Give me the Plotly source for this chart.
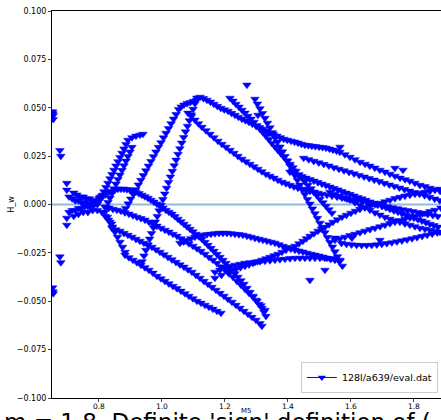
import plotly.graph_objects as go

# ---------------- data ----------------
edge_x = [0.653, 0.654, 0.655, 0.655, 0.653, 0.654, 0.655,
          0.676, 0.679, 0.676, 0.679, 0.698, 0.698, 0.698, 0.698]
edge_y = [0.048, 0.047, 0.046, 0.044, -0.043, -0.045, -0.046,
          0.028, 0.025, -0.027, -0.030, 0.011, 0.0075, -0.007, -0.0106]

k1_x = [0.705, 0.715, 0.725, 0.735, 0.745, 0.755, 0.765, 0.775, 0.785, 0.795]
k1_y = [0.004, 0.003, 0.002, 0.002, 0.001, 0.001, 0.000, 0.000, 0.000, 0.000]
k2_x = [0.705, 0.715, 0.725, 0.735, 0.745, 0.755, 0.765, 0.775, 0.785]
k2_y = [-0.004, -0.003, -0.003, -0.002, -0.002, -0.001, -0.001, -0.001, 0.000]
k3_x = [0.72, 0.73, 0.74, 0.75, 0.76, 0.77, 0.78, 0.79, 0.80, 0.81, 0.82]
k3_y = [0.006, 0.005, 0.004, 0.004, 0.003, 0.003, 0.002, 0.002, 0.003, 0.004, 0.005]
k4_x = [0.72, 0.735, 0.75, 0.765, 0.78, 0.795, 0.81, 0.82, 0.83, 0.84]
k4_y = [-0.006, -0.005, -0.004, -0.004, -0.003, -0.003, -0.004, -0.006, -0.008, -0.010]

a1_x = [0.8032, 0.8096, 0.8159, 0.8223, 0.8286, 0.8350, 0.8413, 0.8477, 0.8540, 0.8604,
        0.8667, 0.8731, 0.8794, 0.8858, 0.8921, 0.9048, 0.9175, 0.9302, 0.9397]
a1_y = [0.0023, 0.0045, 0.0067, 0.0089, 0.0111, 0.0134, 0.0156, 0.0178, 0.0200, 0.0222,
        0.0244, 0.0266, 0.0288, 0.0311, 0.0333, 0.0346, 0.0354, 0.0359, 0.0364]
a2_x = [0.8223, 0.8286, 0.8350, 0.8413, 0.8477, 0.8540, 0.8604, 0.8667, 0.8731, 0.8794,
        0.8858, 0.8921, 0.8985, 0.9048]
a2_y = [-0.0013, 0.0011, 0.0034, 0.0058, 0.0082, 0.0106, 0.0130, 0.0153, 0.0177, 0.0201,
        0.0225, 0.0249, 0.0272, 0.0296]

b_x = [0.885, 0.893, 0.901, 0.909, 0.917, 0.925, 0.933, 0.941, 0.949, 0.957, 0.965, 0.973,
       0.981, 0.989, 0.997, 1.005, 1.013, 1.021, 1.029, 1.037, 1.045, 1.053, 1.061, 1.070,
       1.080, 1.090, 1.100, 1.110]
b_y = [-0.0020, 0.0004, 0.0029, 0.0053, 0.0077, 0.0102, 0.0126, 0.0150, 0.0175, 0.0199,
       0.0223, 0.0248, 0.0272, 0.0296, 0.0320, 0.0345, 0.0369, 0.0393, 0.0418, 0.0442,
       0.0466, 0.0491, 0.0505, 0.0515, 0.0522, 0.0528, 0.0534, 0.0540]

c_x = [0.937, 0.943, 0.949, 0.955, 0.961, 0.967, 0.973, 0.979, 0.985, 0.991, 0.997, 1.003,
       1.009, 1.015, 1.021, 1.027, 1.033, 1.039, 1.045, 1.051, 1.057, 1.063, 1.069, 1.075,
       1.081, 1.087, 1.093, 1.099, 1.105, 1.111]
c_y = [-0.0295, -0.0265, -0.0236, -0.0207, -0.0178, -0.0149, -0.0120, -0.0090, -0.0061,
       -0.0032, -0.0003, 0.0026, 0.0055, 0.0085, 0.0114, 0.0143, 0.0172, 0.0201, 0.0230,
       0.0260, 0.0289, 0.0318, 0.0347, 0.0376, 0.0405, 0.0434, 0.0464, 0.0493, 0.0522, 0.0551]

d1_x = [1.121, 1.132, 1.143, 1.154, 1.165, 1.176, 1.187, 1.198, 1.210, 1.221,
        1.232, 1.243, 1.254, 1.265, 1.276, 1.287, 1.299, 1.310, 1.321, 1.332,
        1.343, 1.354, 1.365, 1.376, 1.387, 1.398, 1.410, 1.421, 1.432, 1.443,
        1.454, 1.465, 1.476, 1.487, 1.499, 1.510, 1.521, 1.532, 1.543, 1.554,
        1.565, 1.581, 1.597, 1.613, 1.629, 1.645, 1.660, 1.676, 1.692, 1.708,
        1.724, 1.740, 1.756, 1.772, 1.787, 1.803, 1.819, 1.835, 1.851, 1.867, 1.883]
d1_y = [0.0555, 0.0548, 0.0540, 0.0530, 0.0519, 0.0508, 0.0498, 0.0490, 0.0483, 0.0472,
        0.0462, 0.0452, 0.0442, 0.0434, 0.0426, 0.0416, 0.0405, 0.0398, 0.0390, 0.0380,
        0.0369, 0.0362, 0.0354, 0.0346, 0.0338, 0.0333, 0.0328, 0.0323, 0.0318, 0.0312,
        0.0307, 0.0305, 0.0302, 0.0300, 0.0297, 0.0295, 0.0292, 0.0287, 0.0282, 0.0277,
        0.0271, 0.0258, 0.0245, 0.0232, 0.0219, 0.0209, 0.0199, 0.0189, 0.0178, 0.0168,
        0.0157, 0.0147, 0.0137, 0.0129, 0.0121, 0.0111, 0.0100, 0.0093, 0.0085, 0.0077, 0.0069]

d1b_x = [1.450, 1.466, 1.482, 1.498, 1.514, 1.530, 1.546, 1.562, 1.578, 1.594, 1.610, 1.626,
         1.642, 1.658, 1.674, 1.690, 1.706, 1.722, 1.738, 1.754, 1.770, 1.786, 1.802, 1.818,
         1.834, 1.850, 1.866, 1.882]
d1b_y = [0.0240, 0.0232, 0.0224, 0.0216, 0.0208, 0.0200, 0.0191, 0.0183, 0.0175, 0.0167,
         0.0159, 0.0151, 0.0143, 0.0135, 0.0127, 0.0119, 0.0110, 0.0102, 0.0094, 0.0086,
         0.0078, 0.0070, 0.0062, 0.0054, 0.0046, 0.0038, 0.0029, 0.0021]

d2_x = [1.0826, 1.0937, 1.1048, 1.1159, 1.1270, 1.1397, 1.1524, 1.1651, 1.1778, 1.1905,
        1.2032, 1.2159, 1.2286, 1.2413, 1.2540, 1.2667, 1.2794, 1.2921, 1.3048, 1.3175,
        1.3302, 1.3429, 1.3556, 1.3683, 1.3810, 1.3937, 1.4064, 1.4191, 1.4318, 1.4445,
        1.4572, 1.4699, 1.4826, 1.4953, 1.5080, 1.524, 1.540, 1.556, 1.572, 1.588, 1.604,
        1.620, 1.636, 1.652, 1.668, 1.684, 1.700, 1.716, 1.732, 1.748, 1.764, 1.780, 1.796,
        1.812, 1.828, 1.844, 1.860, 1.876]
d2_y = [0.0473, 0.0455, 0.0437, 0.0418, 0.0400, 0.0382, 0.0364, 0.0346, 0.0328, 0.0312,
        0.0297, 0.0281, 0.0266, 0.0250, 0.0235, 0.0222, 0.0209, 0.0196, 0.0183, 0.0170,
        0.0157, 0.0147, 0.0137, 0.0126, 0.0116, 0.0108, 0.0100, 0.0092, 0.0085, 0.0080,
        0.0075, 0.0069, 0.0064, 0.0059, 0.0054, 0.0049, 0.0044, 0.0039, 0.0034, 0.0029, 0.0024,
        0.0019, 0.0014, 0.0009, 0.0004, -0.0001, -0.0006, -0.0011, -0.0016, -0.0021, -0.0026,
        -0.0031, -0.0036, -0.0041, -0.0046, -0.0051, -0.0056, -0.0061]

d3_x = [1.2953, 1.3032, 1.3112, 1.3191, 1.3270, 1.3350, 1.3430, 1.3509, 1.3588, 1.3668,
        1.3747, 1.3826, 1.3906, 1.3985, 1.4064, 1.4144, 1.4223, 1.4302, 1.4382, 1.4461,
        1.4541, 1.4620, 1.4699, 1.4778, 1.4858, 1.4937, 1.5017, 1.5096, 1.5175, 1.5255,
        1.5334, 1.5413, 1.5493, 1.5572, 1.5652, 1.5730]
d3_y = [0.0545, 0.0520, 0.0496, 0.0471, 0.0446, 0.0421, 0.0397, 0.0372, 0.0347, 0.0323,
        0.0298, 0.0273, 0.0249, 0.0224, 0.0200, 0.0175, 0.0151, 0.0126, 0.0101, 0.0077,
        0.0052, 0.0027, 0.0003, -0.0022, -0.0047, -0.0071, -0.0096, -0.0121, -0.0145, -0.0170,
        -0.0195, -0.0219, -0.0244, -0.0269, -0.0293, -0.0318]

d4_x = [1.2159, 1.2255, 1.2350, 1.2446, 1.2541, 1.2636, 1.2731, 1.2827, 1.2922, 1.3017,
        1.3112, 1.3208, 1.3303, 1.3398, 1.3493, 1.3589, 1.3684, 1.3779, 1.3874, 1.3969,
        1.4064, 1.4160, 1.4255, 1.4350, 1.4445, 1.4541, 1.4636, 1.4731, 1.4826, 1.4922,
        1.5017, 1.5112, 1.5207, 1.5303, 1.5398]
d4_y = [0.0550, 0.0535, 0.0519, 0.0504, 0.0488, 0.0473, 0.0457, 0.0442, 0.0426, 0.0408,
        0.0390, 0.0372, 0.0354, 0.0336, 0.0317, 0.0299, 0.0281, 0.0263, 0.0245, 0.0227,
        0.0209, 0.0191, 0.0173, 0.0155, 0.0137, 0.0119, 0.0100, 0.0082, 0.0064, 0.0046,
        0.0028, 0.0010, -0.0008, -0.0026, -0.0044]

r1_x = [1.1683, 1.1890, 1.2096, 1.2223, 1.2350, 1.2493, 1.2636, 1.2763, 1.2890, 1.3033,
        1.3176, 1.3303, 1.3430, 1.3557, 1.3684, 1.3811, 1.3938, 1.4080, 1.4223, 1.4350,
        1.4477, 1.4588, 1.4699, 1.4826, 1.4953, 1.5064, 1.5175, 1.5302, 1.5430, 1.5572,
        1.5715, 1.5858, 1.6001, 1.6143, 1.6286, 1.6445, 1.6604, 1.6762, 1.6921, 1.7080,
        1.7239, 1.7398, 1.7557, 1.7715, 1.7874, 1.8033, 1.8192, 1.8350, 1.8509, 1.8668, 1.8827]
r1_y = [-0.0380, -0.0365, -0.0349, -0.0342, -0.0334, -0.0326, -0.0318, -0.0311, -0.0303, -0.0295,
        -0.0287, -0.0280, -0.0272, -0.0264, -0.0256, -0.0246, -0.0235, -0.0225, -0.0215, -0.0202,
        -0.0189, -0.0176, -0.0163, -0.0150, -0.0137, -0.0127, -0.0117, -0.0104, -0.0091, -0.0078,
        -0.0065, -0.0055, -0.0044, -0.0034, -0.0024, -0.0016, -0.0008, 0.0000, 0.0007, 0.0015,
        0.0023, 0.0031, 0.0038, 0.0044, 0.0049, 0.0054, 0.0059, 0.0064, 0.0069, 0.0075, 0.0080]

r2_x = [1.0572, 1.0683, 1.0794, 1.0921, 1.1048, 1.1175, 1.1302, 1.1429, 1.1556, 1.1683,
        1.1810, 1.1937, 1.2064, 1.2191, 1.2318, 1.2445, 1.2572, 1.2699, 1.2826, 1.2953,
        1.3080, 1.3207, 1.3334, 1.3461, 1.3588, 1.3715, 1.3842, 1.3969, 1.4096, 1.4223,
        1.4350, 1.4477, 1.4604, 1.4731, 1.4858, 1.4985, 1.5112, 1.5239, 1.5366, 1.5493, 1.5620]
r2_y = [-0.0199, -0.0192, -0.0184, -0.0176, -0.0168, -0.0163, -0.0158, -0.0155, -0.0153, -0.0150,
        -0.0148, -0.0148, -0.0148, -0.0150, -0.0153, -0.0155, -0.0158, -0.0163, -0.0168, -0.0174,
        -0.0179, -0.0184, -0.0189, -0.0194, -0.0199, -0.0207, -0.0215, -0.0222, -0.0230, -0.0235,
        -0.0240, -0.0245, -0.0251, -0.0256, -0.0261, -0.0266, -0.0271, -0.0277, -0.0282, -0.0287,
        -0.0292]

r3_x = [1.1683, 1.1842, 1.2001, 1.2160, 1.2318, 1.2477, 1.2636, 1.2795, 1.2953, 1.3112,
        1.3271, 1.3430, 1.3588, 1.3747, 1.3906, 1.4065, 1.4223, 1.4382, 1.4541, 1.4700,
        1.4858, 1.5017, 1.5175, 1.5334, 1.5493, 1.5652]
r3_y = [-0.0349, -0.0338, -0.0328, -0.0320, -0.0313, -0.0308, -0.0303, -0.0300, -0.0298, -0.0295,
        -0.0292, -0.0290, -0.0287, -0.0284, -0.0282, -0.0279, -0.0277, -0.0277, -0.0277, -0.0277,
        -0.0277, -0.0277, -0.0277, -0.0279, -0.0282, -0.0287]

r4_x = [1.4064, 1.4191, 1.4318, 1.4445, 1.4572, 1.4699, 1.4826, 1.4953, 1.5080, 1.5207,
        1.5334, 1.5461, 1.5588, 1.5715, 1.5842, 1.5969, 1.6096, 1.6223, 1.6350, 1.6477,
        1.6604, 1.6731, 1.6858, 1.6985, 1.7112, 1.7239, 1.7366, 1.7493, 1.7620, 1.7747,
        1.7874, 1.8001, 1.8128, 1.8255, 1.8382, 1.8509, 1.8636, 1.8763]
r4_y = [0.0168, 0.0160, 0.0152, 0.0145, 0.0137, 0.0130, 0.0122, 0.0114, 0.0106, 0.0099,
        0.0091, 0.0083, 0.0076, 0.0068, 0.0060, 0.0053, 0.0045, 0.0037, 0.0030, 0.0022,
        0.0014, 0.0007, -0.0001, -0.0009, -0.0016, -0.0024, -0.0032, -0.0039, -0.0047, -0.0055,
        -0.0062, -0.0070, -0.0078, -0.0085, -0.0093, -0.0101, -0.0108, -0.0116]

r5_x = [1.5334, 1.5493, 1.5652, 1.5811, 1.5969, 1.6128, 1.6286, 1.6445, 1.6604, 1.6763,
        1.6921, 1.7080, 1.7239, 1.7398, 1.7556, 1.7715, 1.7874, 1.8033, 1.8191, 1.8350,
        1.8509, 1.8668, 1.8826]
r5_y = [0.0064, 0.0054, 0.0044, 0.0034, 0.0023, 0.0010, -0.0003, -0.0016, -0.0029, -0.0042,
        -0.0054, -0.0065, -0.0075, -0.0083, -0.0091, -0.0099, -0.0106, -0.0114, -0.0122, -0.0127,
        -0.0132, -0.0137, -0.0142]

r6_x = [1.5493, 1.5652, 1.5810, 1.5969, 1.6128, 1.6287, 1.6445, 1.6604, 1.6763, 1.6922,
        1.7080, 1.7239, 1.7398, 1.7557, 1.7715, 1.7874, 1.8033, 1.8192, 1.8350, 1.8509,
        1.8668, 1.8858]
r6_y = [-0.0184, -0.0176, -0.0168, -0.0160, -0.0153, -0.0145, -0.0137, -0.0129, -0.0122, -0.0114,
        -0.0106, -0.0098, -0.0091, -0.0083, -0.0075, -0.0068, -0.0060, -0.0052, -0.0044, -0.0036,
        -0.0029, -0.0018]

r8_x = [1.570, 1.586, 1.602, 1.618, 1.634, 1.650, 1.666, 1.682, 1.698, 1.714, 1.730, 1.746,
        1.762, 1.778, 1.794, 1.810, 1.826, 1.842, 1.858, 1.874]
r8_y = [-0.0200, -0.0205, -0.0208, -0.0210, -0.0211, -0.0211, -0.0210, -0.0208, -0.0205, -0.0201,
        -0.0197, -0.0192, -0.0187, -0.0182, -0.0176, -0.0170, -0.0164, -0.0158, -0.0152, -0.0146]

arc0_x = [0.8032, 0.8127, 0.8222, 0.8318, 0.8413, 0.8508, 0.8603, 0.8699, 0.8794, 0.8889,
          0.8984, 0.9080, 0.9175, 0.9270, 0.9365, 0.9461, 0.9556, 0.9651, 0.9746, 0.9842,
          0.9937, 1.0032, 1.0127, 1.0223, 1.0318, 1.0413, 1.0508, 1.0604, 1.0699, 1.0794,
          1.0889, 1.0985, 1.1080, 1.1175, 1.1270, 1.1366, 1.1461, 1.1556, 1.1651, 1.1747,
          1.1842, 1.1937, 1.2032, 1.2128, 1.2223, 1.2318, 1.2413, 1.2509, 1.2604, 1.2699,
          1.2794, 1.2890, 1.2985, 1.3080, 1.3175, 1.3240, 1.3302]
arc0_y = [0.0038, 0.0049, 0.0059, 0.0064, 0.0069, 0.0075, 0.0080, 0.0080, 0.0080, 0.0078,
          0.0075, 0.0070, 0.0064, 0.0057, 0.0049, 0.0041, 0.0033, 0.0023, 0.0013, 0.0003,
          -0.0008, -0.0018, -0.0029, -0.0039, -0.0049, -0.0062, -0.0075, -0.0088, -0.0101, -0.0114,
          -0.0127, -0.0140, -0.0153, -0.0166, -0.0179, -0.0195, -0.0210, -0.0226, -0.0241, -0.0257,
          -0.0272, -0.0288, -0.0303, -0.0321, -0.0339, -0.0357, -0.0375, -0.0393, -0.0411, -0.0432,
          -0.0453, -0.0473, -0.0494, -0.0515, -0.0535, -0.0556, -0.0577]

l0_x = [0.819, 0.827, 0.835, 0.843, 0.851, 0.859, 0.867, 0.875, 0.883]
l0_y = [-0.0039, -0.0065, -0.0090, -0.0116, -0.0142, -0.0168, -0.0194, -0.0220, -0.0246]

l1_x = [0.8191, 0.8318, 0.8445, 0.8572, 0.8699, 0.8826, 0.8953, 0.9080, 0.9207, 0.9334,
        0.9461, 0.9588, 0.9715, 0.9842, 0.9969, 1.0096, 1.0223, 1.0350, 1.0477, 1.0604,
        1.0731, 1.0858, 1.0985, 1.1112, 1.1239, 1.1366, 1.1493, 1.1620, 1.1747, 1.1874,
        1.2001, 1.2128, 1.2255, 1.2382, 1.2509, 1.2636, 1.2763, 1.2890, 1.3017, 1.3144, 1.3271]
l1_y = [-0.0013, -0.0018, -0.0024, -0.0029, -0.0034, -0.0042, -0.0049, -0.0057, -0.0065, -0.0072,
        -0.0080, -0.0090, -0.0101, -0.0111, -0.0122, -0.0132, -0.0142, -0.0153, -0.0163, -0.0176,
        -0.0189, -0.0202, -0.0215, -0.0228, -0.0241, -0.0256, -0.0272, -0.0287, -0.0303, -0.0321,
        -0.0339, -0.0357, -0.0375, -0.0396, -0.0416, -0.0437, -0.0458, -0.0478, -0.0499, -0.0522,
        -0.0546]

l2_x = [0.8413, 0.8540, 0.8667, 0.8794, 0.8921, 0.9048, 0.9175, 0.9302, 0.9429, 0.9556,
        0.9683, 0.9810, 0.9937, 1.0064, 1.0191, 1.0318, 1.0445, 1.0572, 1.0699, 1.0826,
        1.0953, 1.1080, 1.1207, 1.1334, 1.1461, 1.1588, 1.1715, 1.1842, 1.1969, 1.2096,
        1.2223, 1.2350, 1.2477, 1.2604, 1.2731, 1.2858, 1.2985, 1.3112, 1.3175]
l2_y = [-0.0122, -0.0130, -0.0137, -0.0148, -0.0158, -0.0168, -0.0179, -0.0189, -0.0199, -0.0210,
        -0.0220, -0.0233, -0.0246, -0.0259, -0.0272, -0.0285, -0.0298, -0.0311, -0.0323, -0.0336,
        -0.0349, -0.0365, -0.0380, -0.0396, -0.0411, -0.0427, -0.0442, -0.0458, -0.0473, -0.0489,
        -0.0504, -0.0520, -0.0535, -0.0551, -0.0566, -0.0582, -0.0597, -0.0615, -0.0628]

l3_x = [0.8826, 0.8953, 0.9080, 0.9207, 0.9334, 0.9461, 0.9588, 0.9715, 0.9842, 0.9969,
        1.0096, 1.0223, 1.0350, 1.0477, 1.0604, 1.0731, 1.0858, 1.0985, 1.1112, 1.1239,
        1.1366, 1.1493, 1.1620, 1.1747, 1.1874]
l3_y = [-0.0261, -0.0274, -0.0287, -0.0300, -0.0313, -0.0326, -0.0339, -0.0354, -0.0370, -0.0383,
        -0.0396, -0.0409, -0.0422, -0.0434, -0.0447, -0.0460, -0.0473, -0.0486, -0.0499, -0.0509,
        -0.0520, -0.0530, -0.0540, -0.0551, -0.0561]

iso_x = [1.2699, 1.4699, 1.5175, 1.5493, 1.6033, 1.6921, 1.3048, 1.5652, 1.7398, 1.7652]
iso_y = [0.0618, -0.0391, -0.0339, -0.0173, -0.0173, -0.0184, 0.0462, 0.0297, 0.0188, 0.0178]

curves = [
    (edge_x, edge_y), (k1_x, k1_y), (k2_x, k2_y), (k3_x, k3_y), (k4_x, k4_y),
    (a1_x, a1_y), (a2_x, a2_y), (b_x, b_y), (c_x, c_y),
    (d1_x, d1_y), (d1b_x, d1b_y), (d2_x, d2_y), (d3_x, d3_y), (d4_x, d4_y),
    (r1_x, r1_y), (r2_x, r2_y), (r3_x, r3_y), (r4_x, r4_y), (r5_x, r5_y), (r6_x, r6_y),
    (r8_x, r8_y),
    (arc0_x, arc0_y), (l0_x, l0_y), (l1_x, l1_y), (l2_x, l2_y), (l3_x, l3_y),
    (iso_x, iso_y),
]

x_ticks = [0.8, 1.0, 1.2, 1.4, 1.6, 1.8]
y_ticks = [-0.100, -0.075, -0.050, -0.025, 0.000, 0.025, 0.050, 0.075, 0.100]
legend_label = "128l/a639/eval.dat"
caption = "m = 1.8. Definite 'sign' definition of ("

# ---------------- figure ----------------
BLUE = "#0000ff"
fig = go.Figure()
all_x, all_y = [], []
for cx, cy in curves:
    all_x += cx + [None]
    all_y += cy + [None]
fig.add_trace(go.Scatter(
    x=all_x, y=all_y, mode="markers", showlegend=False,
    marker=dict(symbol="triangle-down", size=7.5, color=BLUE,
                line=dict(color=BLUE, width=0.5)),
))
fig.add_trace(go.Scatter(
    x=[None], y=[None], mode="lines+markers", name=legend_label,
    line=dict(color=BLUE, width=1),
    marker=dict(symbol="triangle-down", size=7, color=BLUE),
))
fig.add_hline(y=0, line=dict(color="rgba(31,119,180,0.5)", width=1.8), layer="below")

fig.update_layout(
    width=441, height=420,
    margin=dict(l=52, r=0, t=11, b=22),
    paper_bgcolor="white", plot_bgcolor="white",
    font=dict(family="DejaVu Sans", color="black", size=8),
    showlegend=True,
    legend=dict(x=0.992, y=0.013, xanchor="right", yanchor="bottom",
                bgcolor="white", bordercolor="#cccccc", borderwidth=1,
                font=dict(size=9.5, family="DejaVu Sans")),
    xaxis=dict(range=[0.651, 1.886], tickvals=x_ticks, tickformat=".1f",
               showgrid=False, zeroline=False, showline=True, linecolor="black",
               linewidth=1, mirror=True, ticks="outside", ticklen=3,
               ticklabelstandoff=-2, tickfont=dict(size=7.5)),
    yaxis=dict(range=[-0.1, 0.1], tickvals=y_ticks, tickformat=".3f",
               showgrid=False, zeroline=False, showline=True, linecolor="black",
               linewidth=1, mirror=False, ticks="outside", ticklen=3,
               tickfont=dict(size=8)),
    annotations=[
        dict(text="H_w", xref="paper", yref="paper", x=-0.105, y=0.5,
             textangle=-90, showarrow=False, font=dict(size=8),
             xanchor="center", yanchor="middle"),
        dict(text="M5", xref="paper", yref="paper", x=0.5, y=-0.017,
             showarrow=False, font=dict(size=7), xanchor="center", yanchor="top"),
        dict(text=caption, xref="paper", yref="paper", x=-0.128, y=-0.022,
             showarrow=False, font=dict(size=23, family="DejaVu Sans", color="black"),
             xanchor="left", yanchor="top"),
    ],
)
fig.write_html("out.html")
